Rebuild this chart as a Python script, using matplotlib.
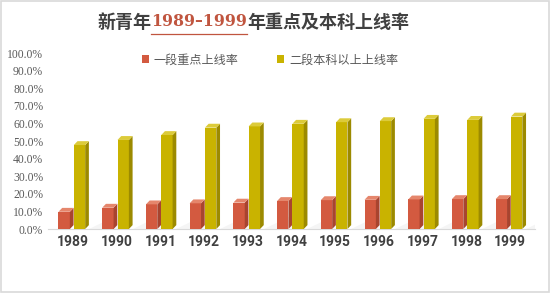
import matplotlib
matplotlib.use("Agg")
import matplotlib.pyplot as plt
from matplotlib.patches import Polygon, Rectangle
from matplotlib.ticker import PercentFormatter
import numpy as np

# data (percent)
years = ['1989', '1990', '1991', '1992', '1993', '1994',
         '1995', '1996', '1997', '1998', '1999']
key_rate = [9.8, 12.1, 14.0, 14.6, 15.0, 15.9, 16.4, 16.6, 16.8, 17.0, 17.0]
bachelor_rate = [47.7, 50.6, 53.4, 57.6, 58.3, 59.8, 60.7, 61.3, 62.6, 62.0, 63.9]
series_names = ['一段重点上线率', '二段本科以上上线率']

plt.rcParams['font.family'] = ['Noto Sans CJK SC', 'DejaVu Sans']

fig = plt.figure(figsize=(5.52, 3.03), dpi=100)
ax = fig.add_axes([48 / 552, 74 / 303, 487 / 552, 176 / 303])

x = np.arange(len(years))
w = 0.26      # front face width
dx = 0.085    # depth offset in x
dy = 2.2      # depth offset in y (percent)

styles = [
    (key_rate, -0.2, '#D35A40', '#A8442F', '#E5866C'),
    (bachelor_rate, 0.15, '#C9B300', '#9C8A00', '#DCCB3A'),
]

# faint cast shadows behind bars
for xi, h in zip(x, bachelor_rate):
    xr = xi + 0.15 + w / 2 + dx
    ax.add_patch(Polygon([(xr, 0), (xr + 0.75, 0), (xr + 0.75, 9)],
                         closed=True, facecolor='#808080', alpha=0.08,
                         edgecolor='none', zorder=1))

for vals, off, front, side, top in styles:
    ax.bar(x + off, vals, width=w, color=front, zorder=3)
    for xi, h in zip(x + off, vals):
        x0 = xi - w / 2
        x1 = xi + w / 2
        ax.add_patch(Polygon([(x1, 0), (x1 + dx, dy), (x1 + dx, h + dy), (x1, h)],
                             closed=True, facecolor=side, edgecolor='none', zorder=3))
        ax.add_patch(Polygon([(x0, h), (x1, h), (x1 + dx, h + dy), (x0 + dx, h + dy)],
                             closed=True, facecolor=top, edgecolor='none', zorder=3))

ax.set_xlim(-0.57, len(years) - 1 + 0.57)
ax.set_ylim(0, 100)
ax.set_yticks(np.arange(0, 101, 10))
ax.yaxis.set_major_formatter(PercentFormatter(decimals=1))
ax.set_xticks(x)
ax.set_xticklabels(years)
for s in ['top', 'right', 'left']:
    ax.spines[s].set_visible(False)
ax.spines['bottom'].set_color('#D9D9D9')
ax.tick_params(axis='both', length=0)
ax.tick_params(axis='y', pad=3.5, labelcolor='#595959')
ax.tick_params(axis='x', pad=4, labelcolor='#404040')
for lab in ax.get_yticklabels():
    lab.set_fontfamily('Liberation Serif')
    lab.set_fontsize(8.4)
for lab in ax.get_xticklabels():
    lab.set_fontfamily('Roboto')
    lab.set_fontweight('bold')
    lab.set_fontsize(10)
ax.patch.set_alpha(0)

# legend
handles = [Rectangle((0, 0), 1, 1, facecolor=s[2]) for s in styles]
leg = fig.legend(handles, series_names, loc='center', ncol=2,
                 bbox_to_anchor=(270 / 552, 1 - 60 / 303), frameon=False,
                 handlelength=0.6, handleheight=0.6, handletextpad=0.4,
                 columnspacing=3.2, prop={'size': 8.7})
for t in leg.get_texts():
    t.set_color('#595959')

# title in three pieces
ty = 1 - 22 / 303
parts = [('新青年', '#404040', ['Noto Sans CJK SC'], 13),
         ('1989–1999', '#C0553F', ['DejaVu Serif'], 11.3),
         ('年重点及本科上线率', '#404040', ['Noto Sans CJK SC'], 13)]
texts = [fig.text(0, ty, s, color=c, family=f, fontsize=fs, fontweight='bold',
                  ha='left', va='center') for s, c, f, fs in parts]
fig.canvas.draw()
r = fig.canvas.get_renderer()
widths = [t.get_window_extent(r).width for t in texts]
xpos = 253 - sum(widths) / 2
for t, wd in zip(texts, widths):
    t.set_x(xpos / 552)
    xpos += wd
red_ext = texts[1].get_window_extent(r)
fig.add_artist(plt.Line2D([red_ext.x0 / 552, red_ext.x1 / 552],
                          [1 - 33.5 / 303, 1 - 33.5 / 303],
                          color='#C0553F', lw=0.9))

# outer frame
fig.add_artist(Rectangle((1 / 552, 1 - 292 / 303), 548 / 552, 291 / 303,
                         transform=fig.transFigure, fill=False,
                         edgecolor='#D9D9D9', lw=1.2))

fig.savefig('out.png', dpi=100)
